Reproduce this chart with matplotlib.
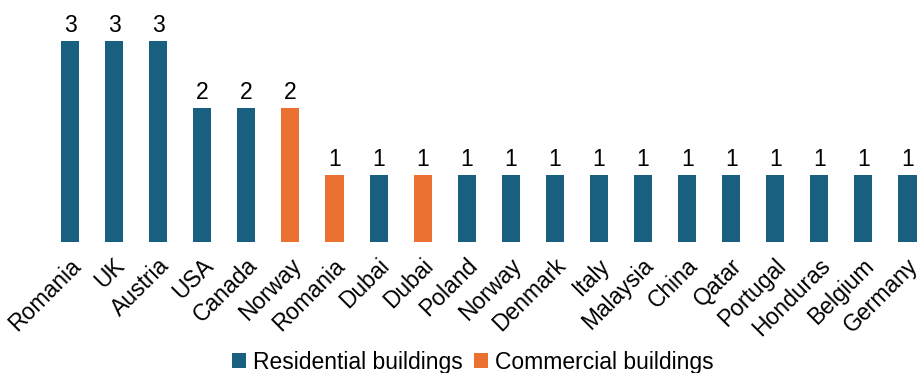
import matplotlib

matplotlib.use("Agg")

import matplotlib.pyplot as plt
import matplotlib.transforms as mtransforms
from matplotlib.patches import Patch

plt.rcParams["font.family"] = ["Liberation Sans", "DejaVu Sans"]

countries = [
    "Romania", "UK", "Austria", "USA", "Canada", "Norway", "Romania", "Dubai",
    "Dubai", "Poland", "Norway", "Denmark", "Italy", "Malaysia", "China",
    "Qatar", "Portugal", "Honduras", "Belgium", "Germany",
]
counts = [3, 3, 3, 2, 2, 2, 1, 1, 1, 1, 1, 1, 1, 1, 1, 1, 1, 1, 1, 1]
building_type = [
    "Residential", "Residential", "Residential", "Residential", "Residential",
    "Commercial", "Commercial", "Residential", "Commercial", "Residential",
    "Residential", "Residential", "Residential", "Residential", "Residential",
    "Residential", "Residential", "Residential", "Residential", "Residential",
]

BLUE = "#185F80"
ORANGE = "#EA7131"
palette = {"Residential": BLUE, "Commercial": ORANGE}
FS = 16.5

fig = plt.figure(figsize=(9.21, 3.73), dpi=100)
ax = fig.add_axes([48 / 921, 131 / 373, (921 - 48) / 921, 234 / 373])

x = list(range(len(countries)))
colors = [palette[t] for t in building_type]
ax.bar(x, counts, width=0.41, color=colors)

label_offset = mtransforms.offset_copy(ax.transData, fig=fig, x=0, y=4, units="dots")
for xi, val in zip(x, counts):
    ax.text(xi, val, str(val), transform=label_offset, ha="center", va="bottom",
            fontsize=FS, color="#000000")

# country names: rotated 45 degrees, right end just under the bar
tick_offset = mtransforms.offset_copy(ax.transData, fig=fig, x=-1, y=-12, units="dots")
for xi, name in zip(x, countries):
    ax.text(xi, 0, name, transform=tick_offset, ha="right", va="top",
            rotation=45, rotation_mode="anchor", fontsize=FS, color="#000000")

ax.set_xlim(-0.5, (921 - 70) / 44.08)
ax.set_ylim(0, 3.5)
ax.set_xticks([])
ax.set_yticks([])
for spine in ax.spines.values():
    spine.set_visible(False)

handles = [
    Patch(facecolor=BLUE, label="Residential buildings"),
    Patch(facecolor=ORANGE, label="Commercial buildings"),
]
fig.legend(handles=handles, loc="center", bbox_to_anchor=(473 / 921, 11 / 373),
           ncol=2, frameon=False, fontsize=FS, handlelength=0.6, handleheight=0.6,
           handletextpad=0.3, columnspacing=0.5, borderpad=0)

fig.savefig("out.png", dpi=100)
